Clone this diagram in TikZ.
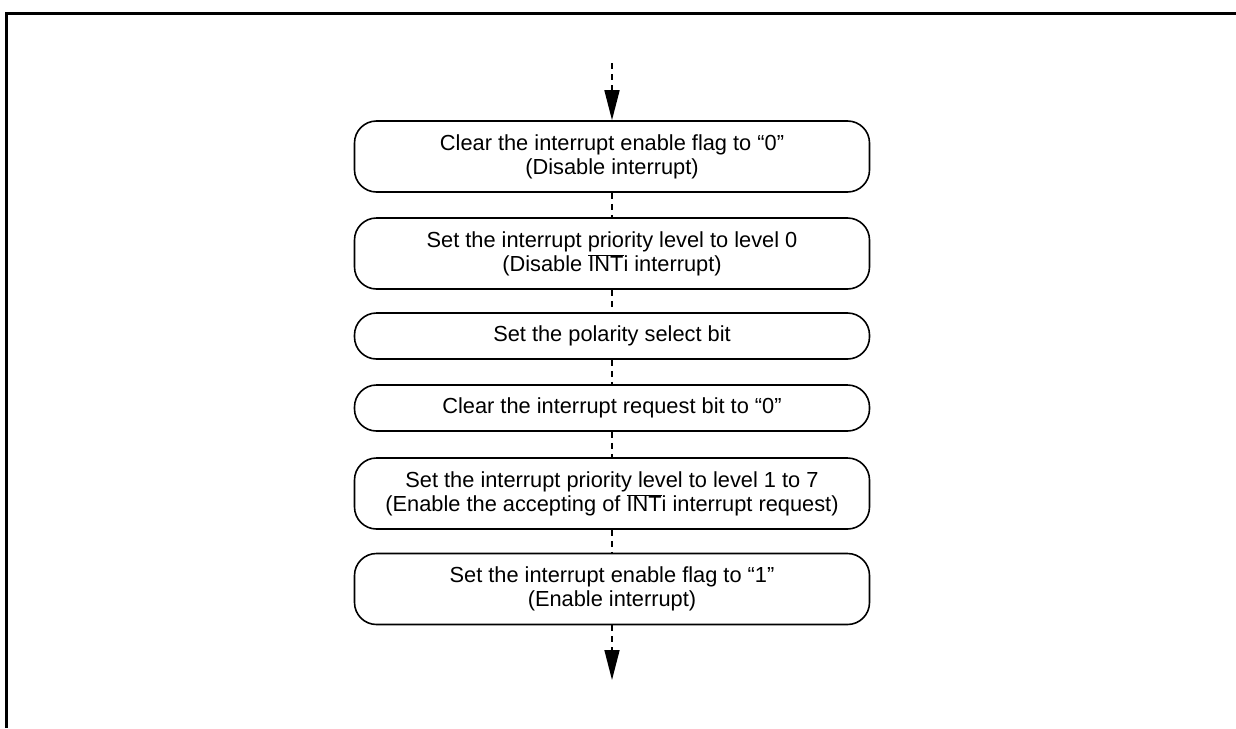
\documentclass[tikz,border=0pt]{standalone}
\usepackage{fontspec}
\setmainfont{Liberation Sans}
\usetikzlibrary{arrows.meta}
\newcommand\ovl[1]{$\overline{\hbox{#1}}$}
\begin{document}
\begin{tikzpicture}[x=1pt,y=-1pt,
  stepbox/.style={draw,line width=1.6pt,rounded corners=22pt,minimum width=515pt,
    align=center,inner sep=0pt,font=\fontsize{21.8}{24}\selectfont},
  tall/.style={minimum height=71pt},
  short/.style={minimum height=46pt},
  conn/.style={line width=1.6pt,dash pattern=on 6pt off 5pt},
  tip/.style={-{Triangle[length=30pt,width=15pt]}}]
\useasboundingbox (0,0) rectangle (1236,728);
\draw[line width=3pt] (6,728) -- (6,13) -- (1236,13);
\node[stepbox,tall] (b1) at (612,156.5) {Clear the interrupt enable flag to “0”\\(Disable interrupt)};
\node[stepbox,tall] (b2) at (612,253.5) {Set the interrupt priority level to level 0\\(Disable \ovl{INT}i interrupt)};
\node[stepbox,short] (b3) at (612,336) {Set the polarity select bit};
\node[stepbox,short] (b4) at (612,408) {Clear the interrupt request bit to “0”};
\node[stepbox,tall] (b5) at (612,493.5) {Set the interrupt priority level to level 1 to 7\\(Enable the accepting of \ovl{INT}i interrupt request)};
\node[stepbox,tall] (b6) at (612,589) {Set the interrupt enable flag to “1”\\(Enable interrupt)};
\coordinate (start) at (612,63);
\coordinate (stop) at (612,680);
\draw[conn,tip] (start) -- (b1.north);
\draw[conn] (b1.south) -- (b2.north);
\draw[conn] (b2.south) -- (b3.north);
\draw[conn] (b3.south) -- (b4.north);
\draw[conn] (b4.south) -- (b5.north);
\draw[conn] (b5.south) -- (b6.north);
\draw[conn,tip] (b6.south) -- (stop);
\end{tikzpicture}
\end{document}
